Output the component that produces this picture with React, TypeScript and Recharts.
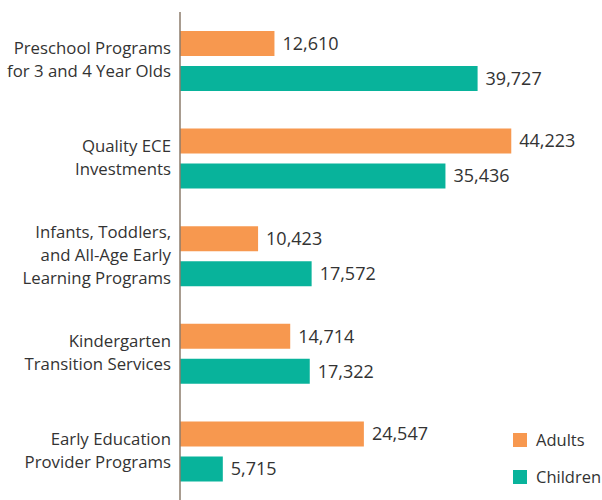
import { BarChart, Bar, XAxis, YAxis, LabelList } from 'recharts';

const categories = [
  'Preschool Programs|for 3 and 4 Year Olds',
  'Quality ECE|Investments',
  'Infants, Toddlers,|and All-Age Early|Learning Programs',
  'Kindergarten|Transition Services',
  'Early Education|Provider Programs',
];
const adults = [12610, 44223, 10423, 14714, 24547];
const children = [39727, 35436, 17572, 17322, 5715];
const seriesNames = ['Adults', 'Children'];

const ORANGE = '#F7984F';
const TEAL = '#08B39B';
const FONT = '"Open Sans", sans-serif';

const data = categories.map((name, i) => ({ name, adults: adults[i], children: children[i] }));

function CategoryTick({ x, y, payload }: { x?: number; y?: number; payload?: { value: string } }) {
  const lines = (payload?.value ?? '').split('|');
  const lh = 23;
  const start = -((lines.length - 1) * lh) / 2;
  return (
    <text x={x} y={y} textAnchor="end" fill="#333" fontSize={16.8} fontFamily={FONT}>
      {lines.map((l, i) => (
        <tspan key={i} x={x} dy={i === 0 ? start + 5 : lh}>
          {l}
        </tspan>
      ))}
    </text>
  );
}

const fmt = (v: any) => Number(v).toLocaleString('en-US');

export default function App() {
  const colors = [ORANGE, TEAL];
  return (
    <div style={{ position: 'absolute', left: 0, top: 0, width: 602, height: 500, background: '#fff' }}>
      <BarChart
        width={602}
        height={500}
        data={data}
        layout="vertical"
        margin={{ top: 12, right: 10, bottom: 0, left: 0 }}
        barGap={10}
        barCategoryGap={19}
      >
        <XAxis type="number" domain={[0, 55000]} hide />
        <YAxis
          type="category"
          dataKey="name"
          width={180}
          axisLine={{ stroke: '#8B7B6B', strokeWidth: 1.5 }}
          tickLine={false}
          tick={<CategoryTick />}
          tickMargin={3}
        />
        <Bar dataKey="adults" fill={ORANGE} barSize={25} isAnimationActive={false}>
          <LabelList dataKey="adults" position="right" offset={8} fill="#333" fontSize={18} fontFamily={FONT} formatter={fmt} />
        </Bar>
        <Bar dataKey="children" fill={TEAL} barSize={25} isAnimationActive={false}>
          <LabelList dataKey="children" position="right" offset={8} fill="#333" fontSize={18} fontFamily={FONT} formatter={fmt} />
        </Bar>
      </BarChart>
      <div style={{ position: 'absolute', left: 513, top: 421, fontFamily: FONT, fontSize: 16.5, color: '#333' }}>
        {seriesNames.map((s, i) => (
          <div key={s} style={{ display: 'flex', alignItems: 'center', height: 37 }}>
            <span style={{ width: 14, height: 14, background: colors[i], marginRight: 9, display: 'inline-block' }} />
            {s}
          </div>
        ))}
      </div>
    </div>
  );
}
